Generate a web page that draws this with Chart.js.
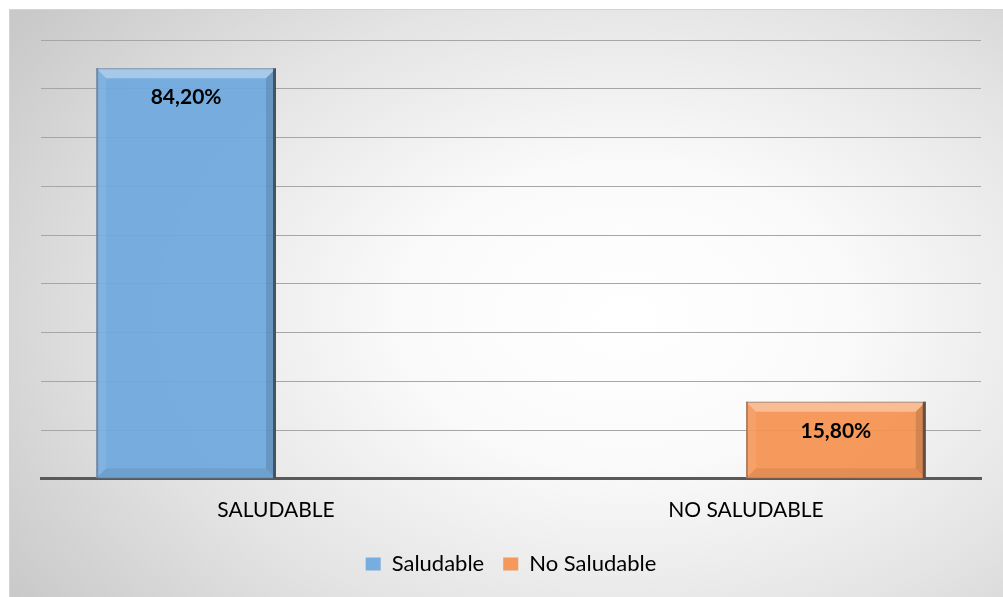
<!DOCTYPE html>
<html>
<head>
<meta charset="utf-8">
<script src="https://cdn.jsdelivr.net/npm/chart.js@4.4.0/dist/chart.umd.min.js"></script>
<style>
    html, body { margin: 0; padding: 0; background: #ffffff; }
    #frame {
        position: absolute;
        left: 9px;
        top: 9px;
        width: 994px;
        height: 588px;
        border-top: 1px solid #d4d4d4;
        border-left: 1px solid #d4d4d4;
        box-sizing: border-box;
        background: radial-gradient(ellipse 75% 85% at 62% 52%, #ffffff 0%, #fafafa 30%, #e4e4e4 65%, #c9c9c9 100%);
    }
</style>
</head>
<body>
<div id="frame"><canvas id="ResultData"></canvas></div>
<script>
const categories = ["SALUDABLE", "NO SALUDABLE"];
const seriesNames = ["Saludable", "No Saludable"];
const saludableValues = [84.2, null];
const noSaludableValues = [null, 15.8];
const seriesColors = ["rgba(111, 168, 222, 0.93)", "rgba(244, 145, 80, 0.93)"];

const ItemChart = document.getElementById("ResultData");
const FontName = "Lato, 'Noto Sans', sans-serif";

// bevel look of the bars, drawn over each bar element
const BevelPlugin = {
    id: "bevel",
    afterDatasetsDraw(chart) {
        const ctx = chart.ctx;
        chart.data.datasets.forEach((ds, i) => {
            chart.getDatasetMeta(i).data.forEach((bar, j) => {
                if (ds.data[j] === null || ds.data[j] === undefined) return;
                const l = bar.x - bar.width / 2;
                const r = bar.x + bar.width / 2;
                const t = bar.y;
                const b = bar.base;
                const s = 10;
                ctx.save();
                ctx.fillStyle = "rgba(255,255,255,0.35)";
                ctx.beginPath();
                ctx.moveTo(l, t); ctx.lineTo(r, t); ctx.lineTo(r - s, t + s); ctx.lineTo(l + s, t + s);
                ctx.fill();
                ctx.fillStyle = "rgba(255,255,255,0.08)";
                ctx.beginPath();
                ctx.moveTo(l, t); ctx.lineTo(l + s, t + s); ctx.lineTo(l + s, b - s); ctx.lineTo(l, b);
                ctx.fill();
                ctx.fillStyle = "rgba(0,0,0,0.13)";
                ctx.beginPath();
                ctx.moveTo(r, t); ctx.lineTo(r, b); ctx.lineTo(r - s, b - s); ctx.lineTo(r - s, t + s);
                ctx.fill();
                ctx.fillStyle = "rgba(0,0,0,0.07)";
                ctx.beginPath();
                ctx.moveTo(l, b); ctx.lineTo(r, b); ctx.lineTo(r - s, b - s); ctx.lineTo(l + s, b - s);
                ctx.fill();
                // edges
                ctx.fillStyle = "rgba(60,60,60,0.75)";
                ctx.fillRect(r - 3, t, 3, b - t);
                ctx.fillStyle = "rgba(90,90,90,0.45)";
                ctx.fillRect(l, t, 2, b - t);
                ctx.fillRect(l, t, r - l, 1);
                ctx.restore();
            });
        });
    },
};

// value labels inside the top of the bars
const ValueLabels = {
    id: "valueLabels",
    afterDatasetsDraw(chart) {
        const ctx = chart.ctx;
        ctx.save();
        ctx.font = "bold 21px " + FontName;
        ctx.fillStyle = "#000000";
        ctx.textAlign = "center";
        ctx.textBaseline = "middle";
        chart.data.datasets.forEach((ds, i) => {
            chart.getDatasetMeta(i).data.forEach((bar, j) => {
                const v = ds.data[j];
                if (v === null || v === undefined) return;
                const text = v.toFixed(2).replace(".", ",") + "%";
                ctx.fillText(text, bar.x, bar.y + 29);
            });
        });
        ctx.restore();
    },
};

new Chart(ItemChart, {
    type: "bar",
    data: {
        labels: categories,
        datasets: [
            {
                label: seriesNames[0],
                data: saludableValues,
                backgroundColor: seriesColors[0],
                borderWidth: 0,
            },
            {
                label: seriesNames[1],
                data: noSaludableValues,
                backgroundColor: seriesColors[1],
                borderWidth: 0,
            },
        ],
    },
    options: {
        responsive: true,
        maintainAspectRatio: false,
        animation: false,
        categoryPercentage: 0.765,
        barPercentage: 1.0,
        layout: {
            padding: { left: 31, right: 22, top: 30, bottom: 12 },
        },
        plugins: {
            tooltip: { enabled: false },
            legend: {
                position: "bottom",
                labels: {
                    boxWidth: 15,
                    boxHeight: 13,
                    color: "#000000",
                    padding: 19,
                    font: { family: FontName, size: 22 },
                },
            },
        },
        scales: {
            x: {
                grid: { display: false },
                border: { display: true, color: "#595959", width: 3 },
                ticks: {
                    color: "#000000",
                    padding: 11,
                    font: { family: FontName, size: 21 },
                },
            },
            y: {
                min: 0,
                max: 90,
                ticks: { display: false, stepSize: 10 },
                border: { display: false },
                grid: { color: "#a6a6a6", lineWidth: 1, drawTicks: false },
            },
        },
    },
    plugins: [BevelPlugin, ValueLabels],
});
</script>
</body>
</html>
